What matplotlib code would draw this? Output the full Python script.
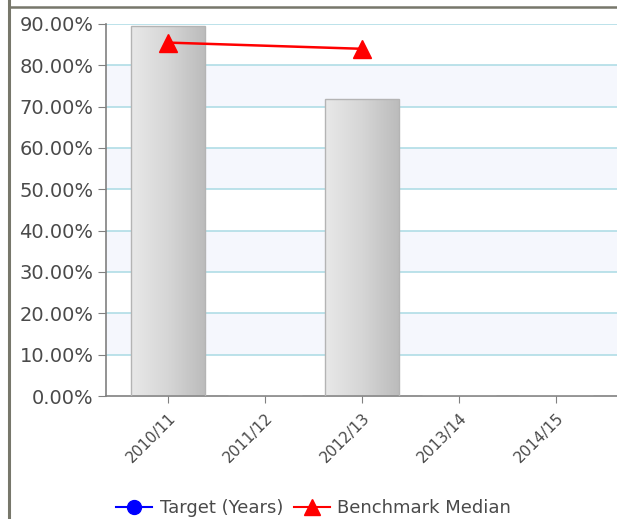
import numpy as np
import matplotlib
matplotlib.use('Agg')
import matplotlib.pyplot as plt
from matplotlib.lines import Line2D

years = ['2010/11', '2011/12', '2012/13', '2013/14', '2014/15']
actual = [89.5, np.nan, 71.9, np.nan, np.nan]
target = [np.nan, np.nan, np.nan, np.nan, np.nan]
benchmark = [85.5, np.nan, 84.0, np.nan, np.nan]

fig = plt.figure(figsize=(6.17, 5.19), dpi=100)
ax = fig.add_axes([106 / 617, 1 - 396 / 519, 1 - 106 / 617, 372 / 519])

x = np.arange(len(years))

# alternating bands and grid
for lo in range(10, 90, 20):
    ax.axhspan(lo, lo + 10, color='#f5f7fd', zorder=0, lw=0)
for yv in range(10, 100, 10):
    ax.axhline(yv, color='#b0dde6', lw=1.2, zorder=1)

# bars with a left-to-right grey gradient
bars = ax.bar(x, np.nan_to_num(actual), width=0.76, color='none',
              edgecolor='#b4b4b4', lw=1, zorder=3)
grad = np.linspace(0, 1, 64).reshape(1, -1)
cmap = matplotlib.colors.LinearSegmentedColormap.from_list('g', ['#e8e8e8', '#d6d6d6', '#bcbcbc'])
for b in bars:
    if b.get_height() <= 0:
        continue
    im = ax.imshow(grad, cmap=cmap, aspect='auto', zorder=2,
                   extent=[b.get_x(), b.get_x() + b.get_width(), 0, b.get_height()])
    im.set_clip_path(b)

ax.plot(x, target, color='blue', marker='o', zorder=4)
bm = np.array(benchmark)
ok = ~np.isnan(bm)
ax.plot(x[ok], bm[ok], color='red', lw=1.8, marker='^', ms=13, zorder=5)

ax.set_xlim(-0.64, 4.63)
ax.set_ylim(0, 90)
ax.set_yticks(range(0, 100, 10))
ax.set_yticklabels(['%.2f%%' % v for v in range(0, 100, 10)], fontsize=14, color='#4a4a4a')
ax.set_xticks(x)
ax.set_xticklabels(years, rotation=45, ha='right', rotation_mode='anchor',
                   fontsize=11, color='#4a4a4a')
ax.tick_params(axis='y', length=6, color='#808080', pad=3)
ax.tick_params(axis='x', length=5, color='#808080', pad=5)
for s in ['top', 'right']:
    ax.spines[s].set_visible(False)
for s in ['left', 'bottom']:
    ax.spines[s].set_color('#808080')
    ax.spines[s].set_linewidth(1.2)

handles = [Line2D([], [], color='blue', marker='o', ms=10, lw=1.5),
           Line2D([], [], color='red', marker='^', ms=11, lw=1.5)]
fig.legend(handles, ['Target (Years)', 'Benchmark Median'], loc='lower left',
           bbox_to_anchor=(100 / 617, -0.028), ncol=2, frameon=False, fontsize=13,
           handlelength=2.0, handletextpad=0.4, columnspacing=0.6,
           labelcolor='#4a4a4a')

# outer frame lines
fig.add_artist(Line2D([8.5 / 617, 8.5 / 617], [0, 1], color='#77776b', lw=2.2))
fig.add_artist(Line2D([8.5 / 617, 1], [1 - 7 / 519, 1 - 7 / 519], color='#77776b', lw=1.8))

fig.savefig('out.png', dpi=100)
